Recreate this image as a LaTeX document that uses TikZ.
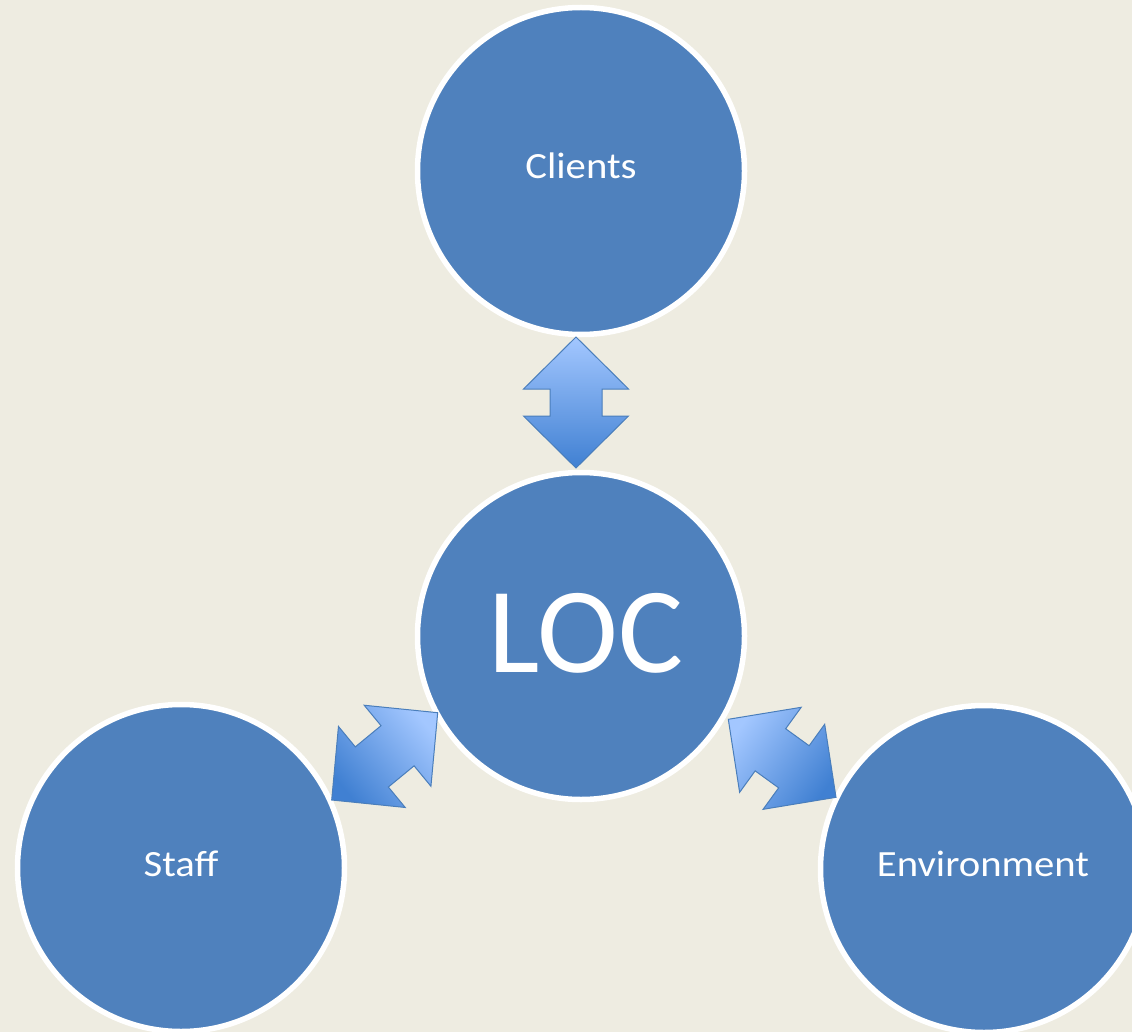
\documentclass[tikz,border=0pt]{standalone}
\usepackage{fontspec}
\setmainfont{Carlito}
\newfontfamily\stretchfont[FakeStretch=1.1]{Carlito}
\usetikzlibrary{calc}
\definecolor{bgc}{HTML}{EEECE1}
\definecolor{circfill}{HTML}{4F81BD}
\definecolor{arrlight}{RGB}{163,199,255}
\definecolor{arrdark}{RGB}{64,128,210}
\definecolor{arredge}{HTML}{4A7EBB}
\tikzset{
  circ/.style={circle, draw=white, line width=5.5pt, fill=circfill, minimum size=327pt, inner sep=0pt},
  lbl/.style={text=white, anchor=base, inner sep=0pt, font=\stretchfont\fontsize{37}{42}\selectfont},
  biglbl/.style={text=white, anchor=base, inner sep=0pt, font=\fontsize{122}{130}\selectfont},
  blockarr/.style={draw=arredge, line width=1pt, line join=miter, top color=arrlight, bottom color=arrdark}
}
\newcommand\blockarrow[3]{%
  \path[blockarr, shading angle=#3]
    (#1)
    -- ($(#1)!52pt!(#2)!52.5pt!90:(#2)$)
    -- ($(#1)!52pt!(#2)!26pt!90:(#2)$)
    -- ($(#2)!52pt!(#1)!26pt!-90:(#1)$)
    -- ($(#2)!52pt!(#1)!52.5pt!-90:(#1)$)
    -- (#2)
    -- ($(#2)!52pt!(#1)!52.5pt!90:(#1)$)
    -- ($(#2)!52pt!(#1)!26pt!90:(#1)$)
    -- ($(#1)!52pt!(#2)!26pt!-90:(#2)$)
    -- ($(#1)!52pt!(#2)!52.5pt!-90:(#2)$)
    -- cycle;}
\begin{document}
\begin{tikzpicture}[x=1pt,y=-1pt]
  \fill[bgc] (0,0) rectangle (1132,1032);
  \useasboundingbox (0,0) rectangle (1132,1032);
  \begin{scope}
    \clip (0,0) rectangle (1132,1032);
    \node[circ] (clients) at (581,171) {};
    \node[circ] (loc) at (581,636) {};
    \node[circ] (staff) at (181,868) {};
    \node[circ] (env) at (984,869) {};
  \end{scope}
  \node[lbl] (clientsT) at (581,179) {Clients};
  \node[lbl] (staffT) at (181,876) {Staff};
  \node[lbl] (envT) at (983,876) {Environment};
  \node[biglbl] (locT) at (586,672) {LOC};
  % arrows
  \coordinate (ta) at (576,337);
  \coordinate (tb) at (576,468);
  \coordinate (la) at (437.7,712.7);
  \coordinate (lb) at (331.7,800);
  \coordinate (ra) at (728.3,719.3);
  \coordinate (rb) at (836,797.3);
  \blockarrow{ta}{tb}{0}
  \blockarrow{la}{lb}{-50.5}
  \blockarrow{ra}{rb}{54.1}
\end{tikzpicture}
\end{document}
